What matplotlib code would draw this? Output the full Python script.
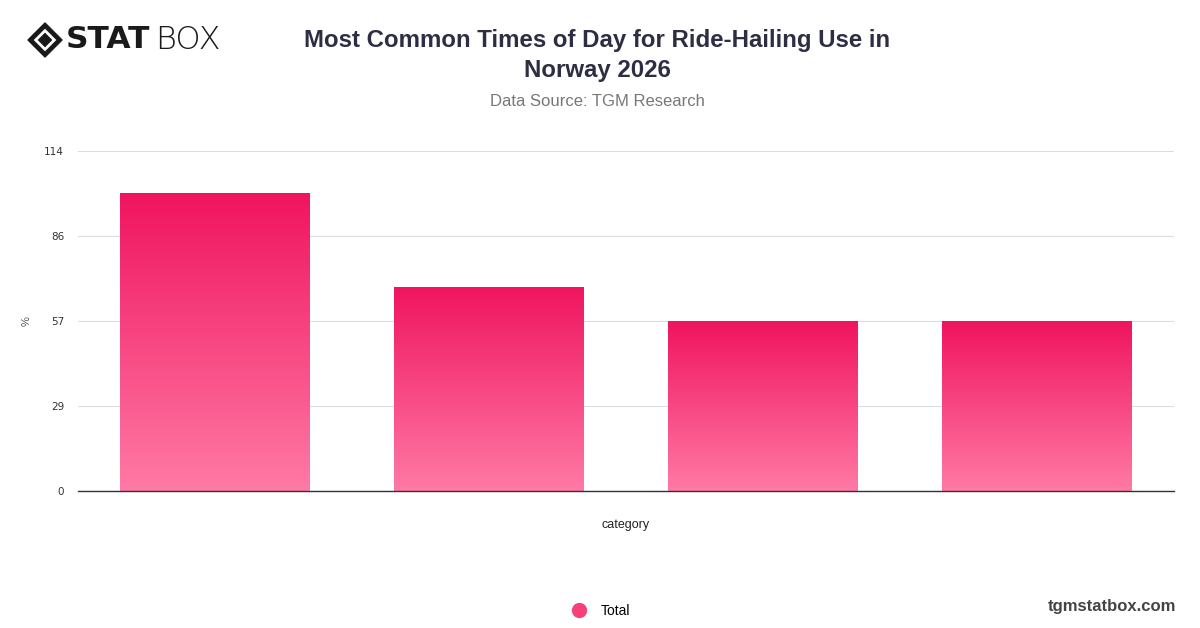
import matplotlib.pyplot as plt
import numpy as np
from matplotlib.colors import LinearSegmentedColormap
from matplotlib.lines import Line2D
from matplotlib.patches import Polygon

# data
categories = ["Morning", "Evening", "Afternoon", "Night"]
values = [100, 68.5, 57, 57]
y_ticks = [0, 28.5, 57, 85.5, 114]
y_tick_labels = ["0", "29", "57", "86", "114"]

plt.rcParams["font.family"] = ["Liberation Sans", "DejaVu Sans"]

fig = plt.figure(figsize=(12, 6.28), dpi=100)
ax = fig.add_axes([78 / 1200, 1 - 491 / 628, 1096 / 1200, 340 / 628])

grad = LinearSegmentedColormap.from_list("pink", ["#ff7aa5", "#f0145f"])
x = np.arange(len(categories))
bars = ax.bar(x, values, width=0.69, color="none", zorder=2)

# gradient fill for each bar
g = np.linspace(0, 1, 256).reshape(-1, 1)
for b in bars:
    x0, y0 = b.get_x(), b.get_y()
    w, h = b.get_width(), b.get_height()
    im = ax.imshow(g, cmap=grad, origin="lower", aspect="auto",
                   extent=[x0, x0 + w, y0, y0 + h], zorder=2)
    im.set_clip_path(b)
ax.set_xlim(-0.5, len(categories) - 0.5)
ax.set_ylim(0, 114)

ax.set_yticks(y_ticks)
ax.set_yticklabels(y_tick_labels, family="DejaVu Sans")
ax.set_xticks([])
ax.grid(axis="y", color="#dddddd", linewidth=0.8, zorder=0)
ax.set_axisbelow(True)
for s in ["top", "right", "left"]:
    ax.spines[s].set_visible(False)
ax.spines["bottom"].set_color("#333333")
ax.spines["bottom"].set_linewidth(1)
ax.tick_params(axis="y", length=0, pad=10, labelsize=7.5, labelcolor="#333333")
ax.set_ylabel("%", fontsize=8, color="#555555")
ax.yaxis.set_label_coords(-46 / 1096, 0.5)
ax.set_xlabel("category", fontsize=9, color="#222222", labelpad=20)

# titles
fig.text(0.4975, 1 - 40 / 628, "Most Common Times of Day for Ride-Hailing Use in",
         ha="center", va="center", fontsize=17.3, fontweight="bold", color="#2d2d44")
fig.text(0.4975, 1 - 70 / 628, "Norway 2026",
         ha="center", va="center", fontsize=17.3, fontweight="bold", color="#2d2d44")
fig.text(0.4975, 1 - 101 / 628, "Data Source: TGM Research",
         ha="center", va="center", fontsize=12, color="#777777")

# logo
lx, ly = 45 / 1200, 1 - 40 / 628
dx, dy = 17 / 1200, 17 / 628
fig.add_artist(Polygon([[lx - dx, ly], [lx, ly + dy], [lx + dx, ly], [lx, ly - dy]],
                       closed=True, transform=fig.transFigure, color="#1a1a1a"))
fig.add_artist(Polygon([[lx - dx * 0.55, ly], [lx, ly + dy * 0.55], [lx + dx * 0.55, ly], [lx, ly - dy * 0.55]],
                       closed=True, transform=fig.transFigure, facecolor="none",
                       edgecolor="white", linewidth=2))
fig.text(66 / 1200, ly, "STAT", ha="left", va="center", fontsize=22.5,
         fontweight="heavy", color="#1a1a1a", family="DejaVu Sans")
fig.text(155 / 1200, ly, "BOX", ha="left", va="center", fontsize=23,
         color="#1a1a1a", family="DejaVu Sans", fontweight="light")

# legend
leg_handle = Line2D([], [], marker="o", linestyle="", markersize=10,
                    markerfacecolor="#f5407a", markeredgecolor="#f5407a")
fig.legend([leg_handle], ["Total"], loc="center", bbox_to_anchor=(0.498, 1 - 611 / 628),
           frameon=False, fontsize=10, handletextpad=0.6)

fig.text(1176 / 1200, 1 - 607 / 628, "tgmstatbox.com", ha="right", va="center",
         fontsize=12, fontweight="bold", color="#444444")

fig.savefig("out.png", dpi=100)
